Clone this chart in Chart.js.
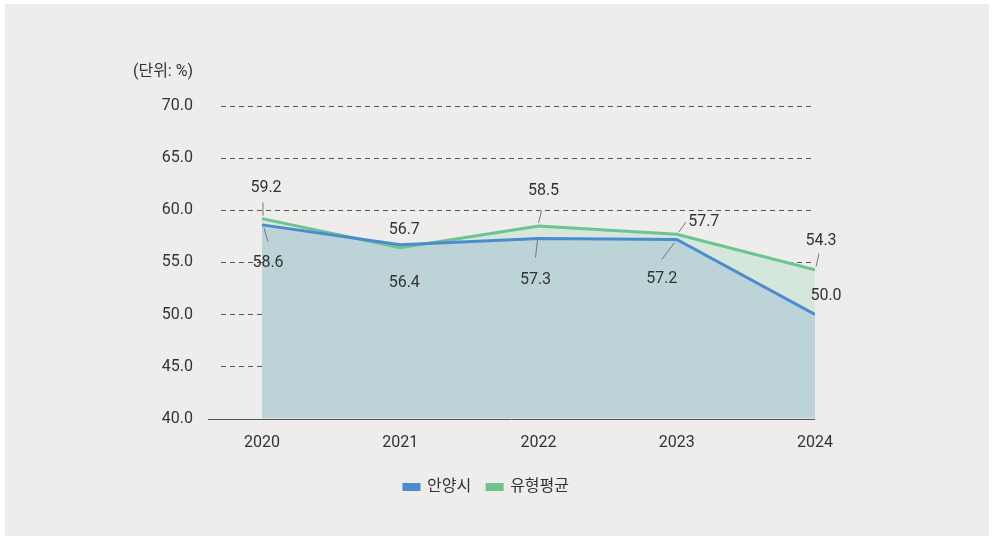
<!DOCTYPE html>
<html lang="ko">
<head>
    <meta charset="UTF-8" />
    <title>안양시 vs 유형평균</title>
    <style>
        body {
            margin: 0;
            background-color: #ffffff;
            font-family: Roboto, "Noto Sans CJK KR", sans-serif;
        }

        .panel {
            position: absolute;
            left: 5px;
            top: 4px;
            width: 984px;
            height: 532px;
            background-color: #eeedeb;
        }
    </style>
    <script src="https://cdn.jsdelivr.net/npm/chart.js"></script>
</head>
<body>
    <div class="panel">
        <canvas id="chart" width="984" height="532"></canvas>
    </div>

    <script>
    // 데이터
    const years = [2020, 2021, 2022, 2023, 2024];
    const anyang = [58.6, 56.7, 57.3, 57.2, 50.0];   // 안양시
    const typeAvg = [59.2, 56.4, 58.5, 57.7, 54.3];  // 유형평균
    const yTicks = [40, 45, 50, 55, 60, 65, 70];

    // 라벨 위치 (점 기준 픽셀 오프셋), 지시선 [x1, y1, x2, y2]
    const anyangLabelPos = [
      { dx: 6, dy: 38, lead: [2, 3, 6, 17] },
      { dx: 4, dy: -15 },
      { dx: -3, dy: 42, lead: [-1, 2, -3, 19] },
      { dx: -15, dy: 40, lead: [-2, 3, -15, 20] },
      { dx: 11, dy: -19 }
    ];
    const typeAvgLabelPos = [
      { dx: 4, dy: -31, lead: [1, -3, 1, -16] },
      { dx: 4, dy: 35 },
      { dx: 5, dy: -35, lead: [0, -3, 3, -15] },
      { dx: 27, dy: -12, lead: [2, -2, 9, -12] },
      { dx: 6, dy: -29, lead: [1, -3, 4, -16] }
    ];

    const FONT = 'Roboto, "Noto Sans CJK KR", sans-serif';

    // 값 라벨 + 지시선 + 기준선
    const valueLabels = {
      id: 'valueLabels',
      afterDatasetsDraw(chart) {
        const ctx = chart.ctx;
        const area = chart.chartArea;
        const sets = [anyangLabelPos, typeAvgLabelPos];
        ctx.save();
        // x축 기준선 (눈금보다 조금 왼쪽에서 시작)
        ctx.strokeStyle = '#555';
        ctx.lineWidth = 1;
        ctx.beginPath();
        ctx.moveTo(area.left - 13, Math.round(area.bottom) + 0.5);
        ctx.lineTo(area.right, Math.round(area.bottom) + 0.5);
        ctx.stroke();

        ctx.font = '16px ' + FONT;
        ctx.fillStyle = '#333';
        ctx.textAlign = 'center';
        ctx.textBaseline = 'middle';
        ctx.strokeStyle = '#777';
        chart.data.datasets.forEach((ds, di) => {
          const meta = chart.getDatasetMeta(di);
          meta.data.forEach((pt, i) => {
            const pos = sets[di][i];
            if (pos.lead) {
              ctx.beginPath();
              ctx.moveTo(pt.x + pos.lead[0], pt.y + pos.lead[1]);
              ctx.lineTo(pt.x + pos.lead[2], pt.y + pos.lead[3]);
              ctx.stroke();
            }
            ctx.fillText(ds.data[i].y.toFixed(1), pt.x + pos.dx, pt.y + pos.dy);
          });
        });
        // 단위
        ctx.textAlign = 'right';
        ctx.fillText('(단위: %)', area.left - 28, area.top - 34);
        ctx.restore();
      }
    };

    new Chart(document.getElementById('chart'), {
      type: 'line',
      data: {
        datasets: [{
          label: '안양시',
          data: years.map((y, i) => ({ x: y, y: anyang[i] })),
          borderColor: '#4b8bcf',
          backgroundColor: '#4b8bcf',
          borderWidth: 3,
          pointRadius: 0,
          tension: 0,
          fill: { target: 'origin', above: '#bcd3d8' }
        }, {
          label: '유형평균',
          data: years.map((y, i) => ({ x: y, y: typeAvg[i] })),
          borderColor: '#6cc490',
          backgroundColor: '#6cc490',
          borderWidth: 3,
          pointRadius: 0,
          tension: 0,
          fill: { target: 'origin', above: '#d5e6dc' }
        }]
      },
      options: {
        responsive: false,
        animation: false,
        layout: { padding: { left: 153, right: 174, top: 102, bottom: 31 } },
        plugins: {
          filler: { drawTime: 'beforeDatasetsDraw' },
          tooltip: { enabled: false },
          legend: {
            position: 'bottom',
            labels: {
              boxWidth: 15,
              boxHeight: 5,
              padding: 16,
              color: '#333',
              font: { size: 16, family: FONT }
            }
          }
        },
        scales: {
          x: {
            type: 'linear',
            min: 2019.7034,
            max: 2024,
            afterBuildTicks: (scale) => { scale.ticks = years.map(v => ({ value: v })); },
            afterFit: (scale) => { scale.height += 3; },
            grid: { display: false },
            border: { display: false },
            ticks: {
              padding: 7,
              color: '#333',
              font: { size: 16, family: FONT },
              callback: (v) => String(v)
            }
          },
          y: {
            min: 40,
            max: 70,
            afterBuildTicks: (scale) => { scale.ticks = yTicks.map(v => ({ value: v })); },
            afterFit: (scale) => { scale.width = 63; },
            border: { display: false, dash: [5, 4] },
            grid: {
              drawTicks: false,
              color: (c) => c.tick && c.tick.value === 40 ? 'rgba(0,0,0,0)' : '#555'
            },
            ticks: {
              padding: 28,
              color: '#333',
              font: { size: 16, family: FONT },
              callback: (v) => v.toFixed(1)
            }
          }
        }
      },
      plugins: [valueLabels]
    });
    </script>
</body>
</html>
